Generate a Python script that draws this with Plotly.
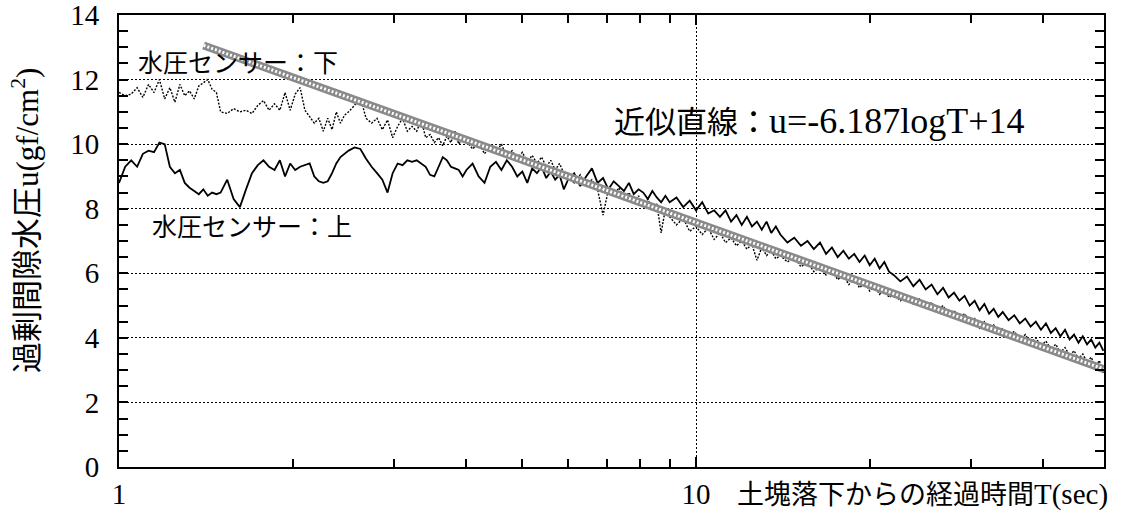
import numpy as np
import plotly.graph_objects as go

# ---- data ----
time_s = [
    1.000, 1.025, 1.050, 1.075, 1.100, 1.125, 1.150, 1.175, 1.200, 1.225,
    1.250, 1.275, 1.300, 1.325, 1.350, 1.375, 1.400, 1.425, 1.450, 1.475,
    1.50, 1.54, 1.58, 1.62, 1.66, 1.70, 1.74, 1.78, 1.82, 1.86, 1.90, 1.94, 1.98,
    2.02, 2.06, 2.10, 2.14, 2.18, 2.22, 2.26, 2.30, 2.34, 2.38, 2.42, 2.46,
    2.50, 2.56, 2.62, 2.68, 2.74, 2.80, 2.86, 2.92, 2.98, 3.04, 3.10, 3.16, 3.22,
    3.28, 3.34, 3.40, 3.46, 3.52, 3.58, 3.64, 3.70, 3.76, 3.82, 3.88, 3.94,
    4.0, 4.1, 4.2, 4.3, 4.4, 4.5, 4.6, 4.7, 4.8, 4.9,
    5.0, 5.1, 5.2, 5.3, 5.4, 5.5, 5.6, 5.7, 5.8, 5.9,
    6.0, 6.15, 6.3, 6.45, 6.6, 6.75, 6.9, 7.05, 7.2, 7.35,
    7.5, 7.65, 7.8, 7.95, 8.1, 8.25, 8.4, 8.55, 8.7, 8.85,
    9.0, 9.25, 9.5, 9.75, 10.0, 10.25, 10.5, 10.75, 11.0, 11.25,
    11.5, 11.75, 12.0, 12.25, 12.5, 12.75, 13.0, 13.25, 13.5, 13.75,
    14.0, 14.4, 14.8, 15.2, 15.6, 16.0, 16.4, 16.8, 17.2, 17.6,
    18.0, 18.4, 18.8, 19.2, 19.6, 20.0, 20.4, 20.8, 21.2, 21.6,
    22.0, 22.6, 23.2, 23.8, 24.4, 25.0, 25.6, 26.2, 26.8, 27.4,
    28.0, 28.6, 29.2, 29.8, 30.4, 31.0, 31.6, 32.2, 32.8, 33.4,
    34.0, 34.8, 35.6, 36.4, 37.2, 38.0, 38.8, 39.6, 40.4, 41.2, 42.0,
    42.8, 43.6, 44.4, 45.2, 46.0, 46.8, 47.6, 48.4, 49.2, 50.0, 50.8,
]

# 水圧センサー：上 (solid)
sensor_upper = [
    8.8, 9.3, 9.5, 9.3, 9.7, 9.8, 9.75, 10.05, 10.0, 9.3,
    9.1, 9.2, 8.8, 8.65, 8.55, 8.45, 8.6, 8.4, 8.5, 8.45,
    8.5, 8.9, 8.3, 8.05, 8.6, 9.1, 9.35, 9.5, 9.3, 9.2, 9.5, 9.0, 9.4,
    9.2, 9.3, 9.35, 9.4, 9.0, 8.85, 8.8, 8.85, 9.1, 9.4, 9.6, 9.7,
    9.8, 9.9, 9.85, 9.55, 9.3, 9.1, 8.9, 8.5, 9.1, 9.4, 9.35, 9.5, 9.45,
    9.5, 9.4, 9.3, 9.05, 9.0, 9.3, 9.6, 9.5, 9.3, 9.25, 9.2, 9.0,
    9.2, 9.4, 9.0, 8.8, 9.3, 9.45, 9.2, 9.5, 9.3, 9.0,
    9.15, 8.8, 9.25, 9.1, 9.3, 8.95, 9.15, 8.9, 9.05, 8.6,
    8.9, 9.1, 8.7, 9.0, 9.25, 8.8, 8.95, 8.6, 8.85, 8.7,
    8.55, 8.8, 8.45, 8.6, 8.5, 8.3, 8.55, 8.35, 8.2, 8.4,
    8.2, 8.35, 8.05, 8.25, 7.95, 8.2, 7.85, 7.95, 7.75, 7.95,
    7.6, 7.8, 7.5, 7.75, 7.45, 7.6, 7.35, 7.6, 7.25, 7.45,
    7.2, 6.95, 7.1, 6.85, 7.0, 6.75, 6.95, 6.6, 6.8, 6.5,
    6.7, 6.45, 6.6, 6.35, 6.55, 6.25, 6.45, 6.15, 6.35, 6.05,
    5.95, 5.75, 5.9, 5.6, 5.8, 5.5, 5.65, 5.35, 5.55, 5.25,
    5.4, 5.15, 5.3, 5.0, 5.15, 4.85, 5.05, 4.75, 4.9, 4.65,
    4.8, 4.55, 4.7, 4.45, 4.6, 4.35, 4.5, 4.25, 4.45, 4.15, 4.3,
    4.05, 4.25, 3.95, 4.1, 3.85, 4.05, 3.8, 3.95, 3.7, 3.85, 3.6,
]

# 水圧センサー：下 (dotted)
sensor_lower = [
    11.6, 11.5, 11.55, 11.75, 11.45, 11.85, 11.6, 12.0, 11.4, 11.75,
    11.3, 11.85, 11.5, 11.65, 11.4, 11.8, 11.9, 12.0, 11.7, 11.6,
    11.0, 10.95, 11.1, 11.0, 11.05, 10.95, 11.2, 11.35, 11.05, 11.25, 11.05, 11.6, 11.05,
    11.55, 11.75, 11.05, 10.85, 10.65, 10.8, 10.4, 10.8, 10.45, 11.0, 10.65, 10.9,
    11.0, 11.2, 11.45, 10.8, 10.65, 10.8, 10.45, 10.75, 10.2, 10.55, 10.8, 10.4, 10.55,
    10.4, 10.75, 10.2, 10.3, 10.05, 10.2, 9.95, 10.25, 10.05, 10.4, 10.0, 10.15,
    10.1, 9.85, 10.05, 9.7, 9.95, 9.75, 10.0, 9.6, 9.8, 9.55,
    9.75, 9.45, 9.65, 9.4, 9.6, 9.3, 9.5, 9.2, 9.4, 9.1,
    9.0, 8.8, 9.05, 8.7, 8.9, 8.6, 7.8, 8.6, 8.4, 8.65,
    8.3, 8.5, 8.2, 8.4, 8.05, 8.3, 7.95, 8.15, 7.25, 8.0,
    7.75, 7.5, 7.7, 7.3, 7.45, 7.2, 7.4, 7.05, 7.25, 6.95,
    7.1, 6.85, 7.0, 6.75, 6.9, 6.4, 6.8, 6.55, 6.7, 6.45,
    6.55, 6.35, 6.5, 6.2, 6.35, 6.05, 6.2, 5.95, 6.1, 5.8,
    5.95, 5.65, 5.85, 5.55, 5.7, 5.45, 5.6, 5.35, 5.5, 5.25,
    5.35, 5.15, 5.3, 5.05, 5.2, 4.95, 5.1, 4.85, 5.0, 4.7,
    4.85, 4.6, 4.75, 4.5, 4.6, 4.3, 4.5, 4.25, 4.4, 4.15,
    4.3, 4.05, 4.2, 3.95, 4.1, 3.85, 4.0, 3.75, 3.9, 3.65, 3.8,
    3.55, 3.7, 3.45, 3.6, 3.35, 3.5, 3.25, 3.4, 3.1, 3.3, 2.9,
]

# 近似直線 u = -6.187 logT + 14
fit_slope = -6.187
fit_intercept = 14.0
fit_T = [1.42, 59.3]

label_lower = "水圧センサー：下"
label_upper = "水圧センサー：上"
label_fit_jp = "近似直線："
label_fit_eq = "u=-6.187logT+14"
x_title_jp = "土塊落下からの経過時間"
x_title_unit = "T(sec)"
y_title = "過剰間隙水圧u(gf/cm<sup>2</sup>)"

y_ticks = [0, 2, 4, 6, 8, 10, 12, 14]
x_major = [1, 10]
x_minor = [2, 3, 4, 5, 6, 7, 8, 9, 20, 30, 40]

# ---- layout geometry ----
W, H = 1142, 516
L_M, T_M, B_M = 119, 15, 49
plot_right = 1104
paper_w = W - L_M
paper_h = H - T_M - B_M
x_dom = (plot_right - L_M) / paper_w
x_max_log = 1.707
x2_max_log = x_max_log / x_dom

SERIF = "Liberation Serif, Noto Sans CJK JP, serif"
JP = "Liberation Serif, Noto Sans CJK JP, sans-serif"

fit_u = [fit_slope * np.log10(t) + fit_intercept for t in fit_T]

fig = go.Figure()
fig.add_trace(go.Scatter(x=time_s, y=sensor_lower, mode="lines",
                         line=dict(color="black", width=1.4, dash="2px,1.5px"),
                         name=label_lower, showlegend=False))
fig.add_trace(go.Scatter(x=time_s, y=sensor_upper, mode="lines",
                         line=dict(color="black", width=1.8),
                         name=label_upper, showlegend=False))
fig.add_trace(go.Scatter(x=fit_T, y=fit_u, mode="lines", xaxis="x2", yaxis="y2",
                         line=dict(color="#8a8a8a", width=8), showlegend=False))
fig.add_trace(go.Scatter(x=fit_T, y=fit_u, mode="lines", xaxis="x2", yaxis="y2",
                         line=dict(color="white", width=3, dash="2px,2px"), showlegend=False))

axis_common = dict(showline=True, linecolor="black", linewidth=2, mirror="ticks",
                   ticks="inside", tickcolor="black", zeroline=False, automargin=False,
                   ticklabeloverflow="allow")

fig.update_layout(
    width=W, height=H,
    margin=dict(l=L_M, r=0, t=T_M, b=B_M, autoexpand=False),
    paper_bgcolor="white", plot_bgcolor="white",
    showlegend=False,
    xaxis=dict(type="log", domain=[0, x_dom], range=[0, x_max_log],
               tickmode="array", tickvals=x_major, ticktext=[str(v) for v in x_major],
               ticklen=10, tickwidth=1.5,
               showgrid=True, gridcolor="black", griddash="2px,2px", gridwidth=1,
               tickfont=dict(family=SERIF, size=29, color="black"),
               ticklabelstandoff=0,
               minor=dict(tickmode="array", tickvals=x_minor, ticks="inside",
                          ticklen=8, tickcolor="black", tickwidth=1.5, showgrid=False),
               **axis_common),
    yaxis=dict(range=[0, 14], domain=[0, 1], tickmode="array", tickvals=y_ticks,
               ticklen=9, tickwidth=1.5,
               showgrid=True, gridcolor="black", griddash="2px,2px", gridwidth=1,
               tickfont=dict(family=SERIF, size=29, color="black"),
               ticklabelstandoff=12,
               minor=dict(dtick=0.5, ticks="inside", ticklen=9, tickcolor="black",
                          tickwidth=1.5, showgrid=False),
               **axis_common),
    xaxis2=dict(type="log", domain=[0, 1], range=[0, x2_max_log], overlaying="x",
                anchor="y2", visible=False),
    yaxis2=dict(range=[0, 14], domain=[0, 1], overlaying="y", anchor="x2",
                visible=False),
)

fig.add_annotation(x=np.log10(1.07), y=12.5, xref="x", yref="y", text=label_lower,
                   showarrow=False, xanchor="left", yanchor="middle",
                   font=dict(family=JP, size=25, color="black"))
fig.add_annotation(x=np.log10(1.13), y=7.43, xref="x", yref="y", text=label_upper,
                   showarrow=False, xanchor="left", yanchor="middle",
                   font=dict(family=JP, size=25, color="black"))
fig.add_annotation(x=np.log10(7.15), y=10.72, xref="x", yref="y",
                   text=label_fit_jp + '<span style="font-size:36px">' + label_fit_eq + "</span>",
                   showarrow=False, xanchor="left", yanchor="middle",
                   font=dict(family=JP, size=31, color="black"))
fig.add_annotation(x=(735 - L_M) / paper_w, y=(467 - 494) / paper_h, xref="paper", yref="paper",
                   text=x_title_jp + '<span style="font-size:29px">' + x_title_unit + "</span>",
                   showarrow=False, xanchor="left", yanchor="middle",
                   font=dict(family=JP, size=27, color="black"))
fig.add_annotation(x=(25 - L_M) / paper_w, y=(467 - 221) / paper_h, xref="paper", yref="paper",
                   text=y_title, showarrow=False, textangle=-90, xanchor="center", yanchor="middle",
                   font=dict(family=JP, size=31, color="black"))

# remove the browser's default 8px page margin so the figure sits at the page origin
fig.write_html("out.html", config={"displayModeBar": False},
               post_script="document.body.style.margin='0';document.body.style.overflow='hidden';")
